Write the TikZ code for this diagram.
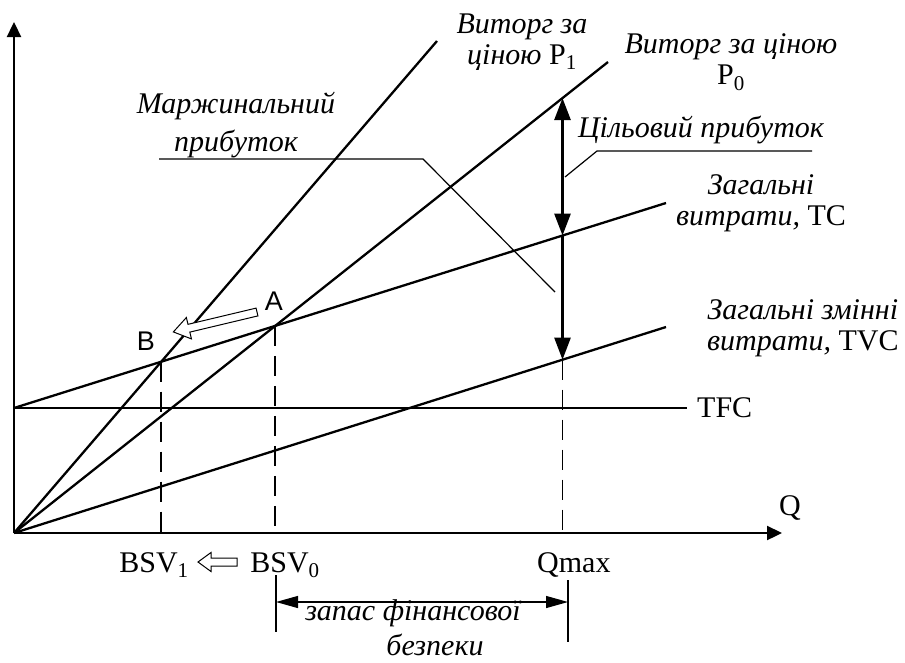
\documentclass[tikz,border=0pt]{standalone}
\usepackage{fontspec}
\setmainfont{Liberation Serif}
\newfontfamily\pointfont{Liberation Sans}
\usetikzlibrary{arrows.meta, intersections}
\tikzset{
    curve/.style={line width=2.3pt},
    leader/.style={line width=1.2pt},
    guide/.style={line width=1.8pt, dash pattern=on 20pt off 10pt},
    hollow/.style={line width=1pt, fill=white},
    lbl/.style={font=\fontsize{30}{31}\selectfont, inner sep=0pt, align=center},
    ilbl/.style={lbl, font=\fontsize{30}{31}\selectfont\itshape},
    pointlbl/.style={font=\pointfont\fontsize{27}{30}\selectfont, inner sep=0pt},
    axistip/.style={-{Triangle[length=15pt,width=14pt]}}
}

\begin{document}
\begin{tikzpicture}[x=1pt, y=-1pt]
\useasboundingbox (0,0) rectangle (905,662);

% axes and lines
\coordinate (O) at (14,533);
\coordinate (ytop) at (14,22);
\coordinate (xend) at (782,533);
\coordinate (F0) at (14,408);
\coordinate (F1) at (687,408);
\coordinate (TCend) at (666,203);
\coordinate (TVCend) at (666,327);
\coordinate (P0end) at (608,62);
\coordinate (P1end) at (437,41);

\draw[curve, axistip] (O) -- (ytop);
\draw[curve, axistip] (O) -- (xend);
\draw[curve] (F0) -- (F1);
\draw[curve, name path=tc] (F0) -- (TCend);
\draw[curve, name path=tvc] (O) -- (TVCend);
\draw[curve, name path=pzero] (O) -- (P0end);
\draw[curve, name path=pone] (O) -- (P1end);

\path[name intersections={of=tc and pzero, by=A}];
\path[name intersections={of=tc and pone, by=B}];
\path[name path=qline] (562.5,40) -- (562.5,540);
\path[name intersections={of=qline and pzero, by=Q0}];
\path[name intersections={of=qline and tc, by=Q1}];
\path[name intersections={of=qline and tvc, by=Q2}];

\foreach \p in {A,B,Q2}
{
    \draw[guide] (\p) -- (\p |- O);
};

% target profit
\draw[line width=2.8pt, {Triangle[length=22pt,width=16pt]}-{Triangle[length=22pt,width=16pt]}] (Q0) -- (Q1);
\draw[line width=2.4pt, -{Triangle[length=22pt,width=16pt]}] (Q1) -- (Q2);

% leaders
\coordinate (m0) at (159,159);
\coordinate (m1) at (423,159);
\coordinate (m2) at (555,292);
\draw[leader] (m0) -- (m1) -- (m2);
\coordinate (c0) at (812,151);
\coordinate (c1) at (597,151);
\coordinate (c2) at (565,177);
\draw[leader] (c0) -- (c1) -- (c2);

% shift of the break-even point
\begin{scope}[shift={(257,312)}, rotate=13.4]
\draw[hollow] (0,-4) -- (-70,-4) -- (-70,-11) -- (-86,0) -- (-70,11) -- (-70,4) -- (0,4) -- cycle;
\end{scope}
\begin{scope}[shift={(237,562)}]
\draw[hollow] (0,-4) -- (-26,-4) -- (-26,-9.5) -- (-39,0) -- (-26,9.5) -- (-26,4) -- (0,4) -- cycle;
\end{scope}

% safety margin
\coordinate (sL0) at (276,575);
\coordinate (sL1) at (276,632);
\coordinate (sR0) at (568,580);
\coordinate (sR1) at (568,642);
\coordinate (sL) at (276,602);
\coordinate (sR) at (568,602);
\draw[leader] (sL0) -- (sL1);
\draw[leader] (sR0) -- (sR1);
\draw[leader, {Triangle[length=22pt,width=12pt]}-{Triangle[length=22pt,width=12pt]}] (sL) -- (sR);

% labels
\node[pointlbl] (lA) at (274,301) {A};
\node[pointlbl] (lB) at (146,341) {B};
\node[ilbl, font=\fontsize{30}{38}\selectfont\itshape] (marg) at (236,125) {Маржинальний\\прибуток};
\node[ilbl] (rev1) at (522,42) {Виторг за\\ціною \textup{P\textsubscript{1}}};
\node[ilbl] (rev0) at (731,62) {Виторг за ціною\\\textup{P\textsubscript{0}}};
\node[ilbl, anchor=base] (target) at (701,137) {Цільовий прибуток};
\node[ilbl] (tc) at (761,203.5) {Загальні\\витрати, \textup{TC}};
\node[ilbl, anchor=west] (tvc) at (707,328.5) {Загальні змінні\\витрати, \textup{TVC}};
\node[lbl, anchor=base west] (tfc) at (697,417) {TFC};
\node[lbl, anchor=base] (q) at (790,515) {Q};
\node[lbl, anchor=base] (bsv1) at (154,572) {BSV\textsubscript{1}};
\node[lbl, anchor=base] (bsv0) at (285,572) {BSV\textsubscript{0}};
\node[lbl, anchor=base west] (qmax) at (537,572) {Qmax};
\node[ilbl, anchor=base] (margin1) at (413,620) {запас фінансової};
\node[ilbl, anchor=base] (margin2) at (435,655) {безпеки};
\end{tikzpicture}
\end{document}
